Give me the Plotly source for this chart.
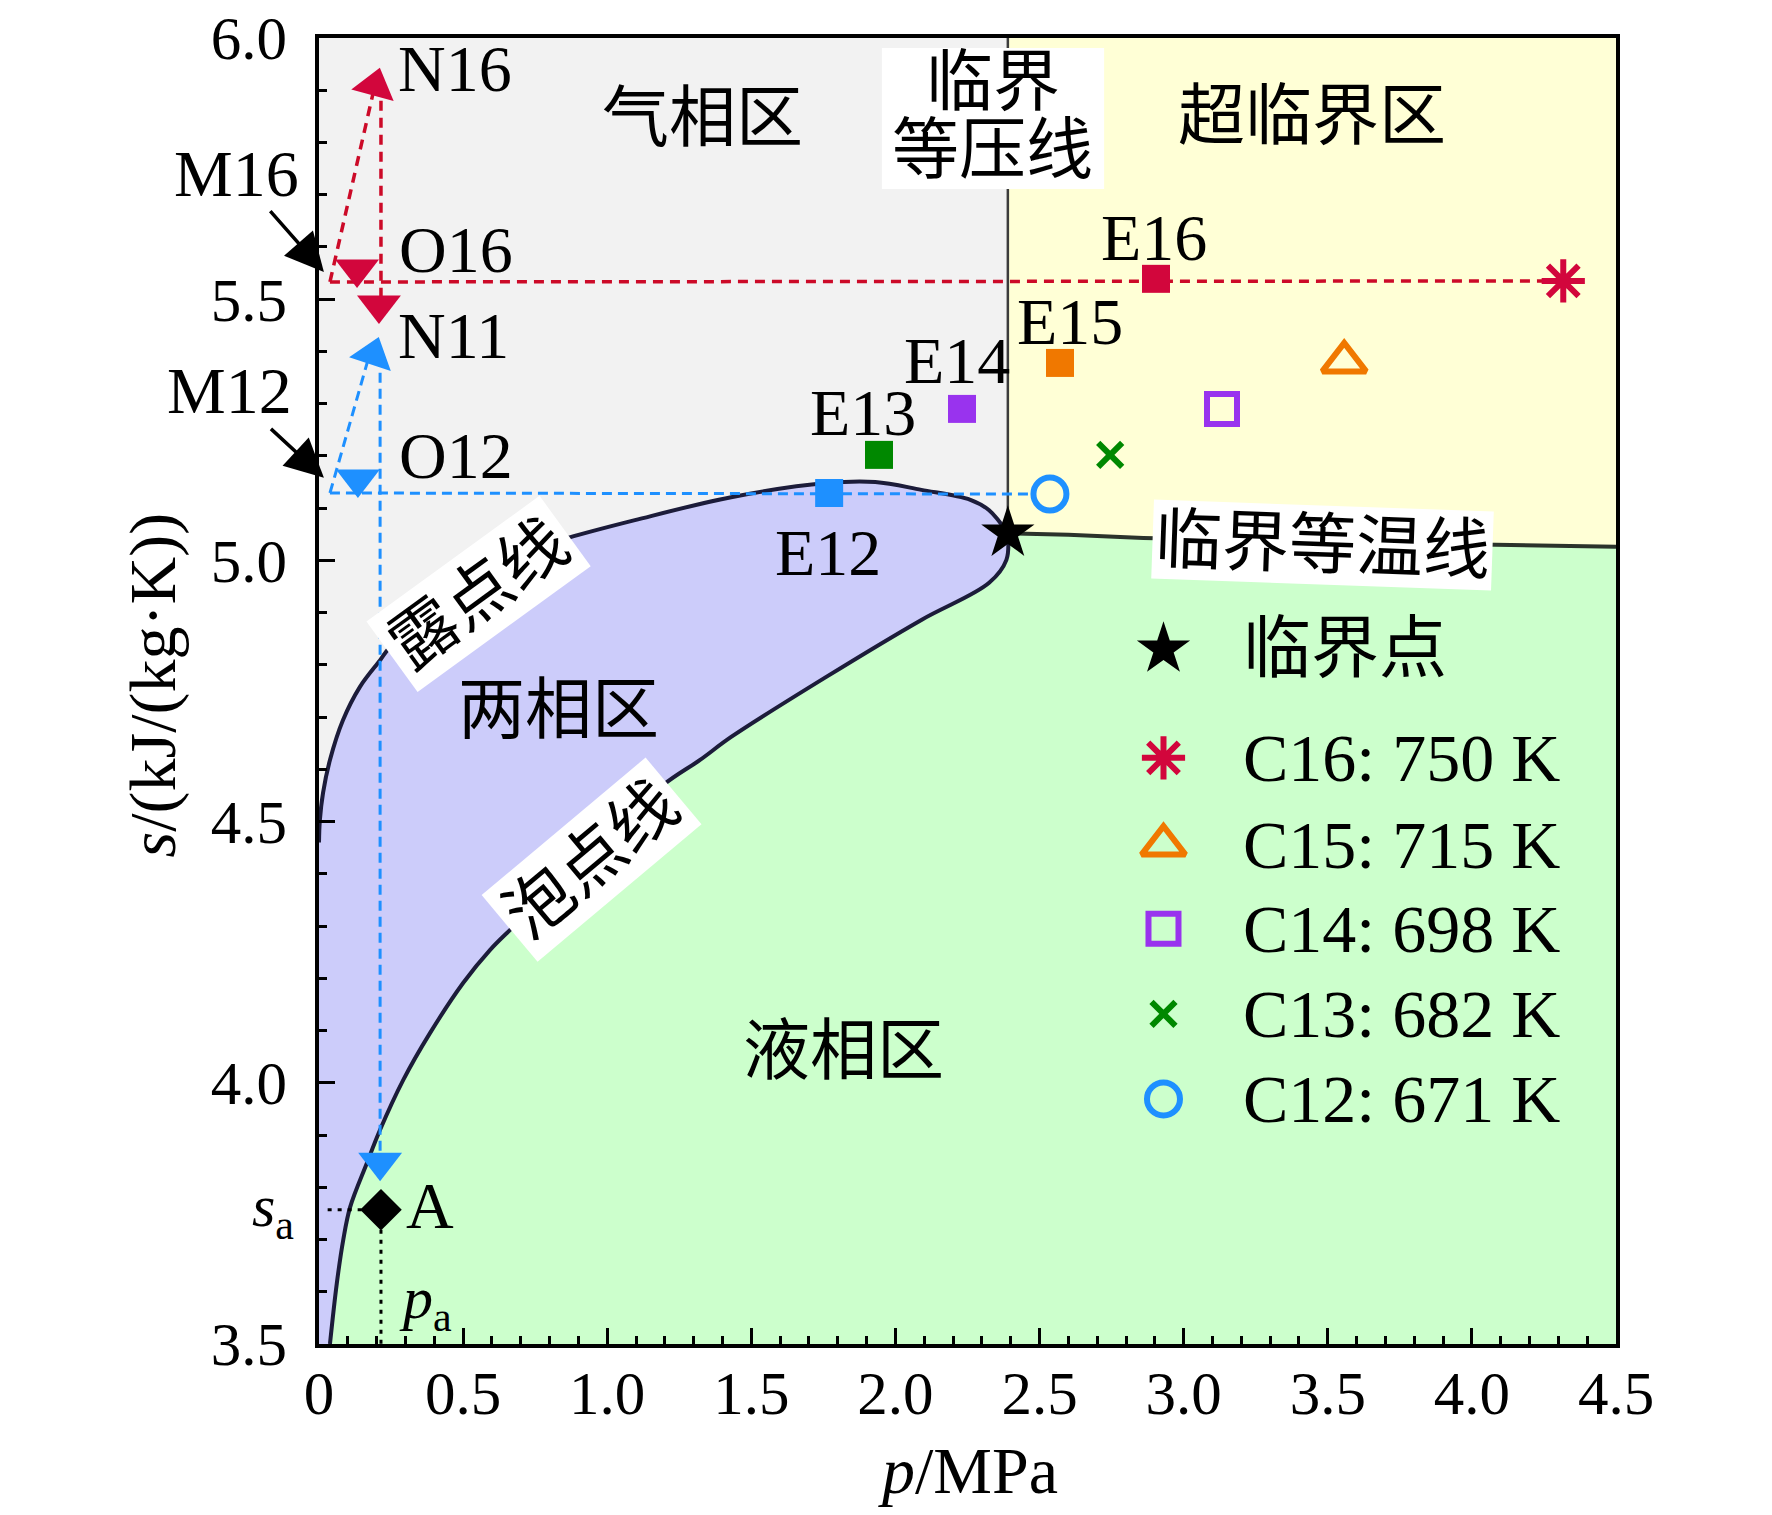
import plotly.graph_objects as go

# axes
x_ticks = [0, 0.5, 1.0, 1.5, 2.0, 2.5, 3.0, 3.5, 4.0, 4.5]
x_ticktext = ["0", "0.5", "1.0", "1.5", "2.0", "2.5", "3.0", "3.5", "4.0", "4.5"]
y_ticks = [3.5, 4.0, 4.5, 5.0, 5.5, 6.0]
y_ticktext = ["3.5", "4.0", "4.5", "5.0", "5.5", "6.0"]
p_min, p_max = 0.0, 4.5
s_min, s_max = 3.5, 6.0

# saturation dome
dew_p = [0.0, 0.003, 0.014, 0.038, 0.083, 0.142, 0.212, 0.246, 0.45, 0.65, 0.864, 1.096,
         1.43, 1.76, 1.93, 2.09, 2.26, 2.325, 2.39]
dew_s = [4.46, 4.503, 4.555, 4.618, 4.694, 4.758, 4.809, 4.834, 4.94, 5.005, 5.043, 5.077,
         5.121, 5.148, 5.150, 5.135, 5.116, 5.096, 5.052]
bubble_p = [0.038, 0.062, 0.084, 0.108, 0.166, 0.212, 0.292, 0.385, 0.50, 0.593, 0.673, 0.93,
            1.194, 1.322, 1.43, 1.76, 2.09, 2.325, 2.385, 2.39]
bubble_s = [3.50, 3.617, 3.699, 3.762, 3.846, 3.910, 4.005, 4.095, 4.191, 4.254, 4.298, 4.435,
            4.570, 4.618, 4.662, 4.777, 4.886, 4.957, 5.001, 5.052]

# critical point and critical isotherm
crit_p = 2.39
crit_s = 5.052
iso_p = [2.39, 2.6, 2.86, 3.5, 4.5]
iso_s = [5.052, 5.049, 5.043, 5.035, 5.026]

# end states E12..E16 and condenser states C12..C16
E_names = ["E12", "E13", "E14", "E15", "E16"]
E_p = [1.77, 1.943, 2.231, 2.571, 2.904]
E_s = [5.129, 5.202, 5.29, 5.378, 5.539]
E_lab_p = [1.766, 1.887, 2.215, 2.605, 2.898]
E_lab_s = [5.016, 5.284, 5.382, 5.458, 5.619]
C_names = ["C12", "C13", "C14", "C15", "C16"]
C_T = [671, 682, 698, 715, 750]
C_p = [2.536, 2.745, 3.133, 3.557, 4.317]
C_s = [5.127, 5.202, 5.29, 5.38, 5.535]
colors = ["#1e90ff", "#008800", "#9933ee", "#f07800", "#d2063c"]
C_symbols = ["circle", "x-thin", "square", "triangle-up", "asterisk"]
C_sizes = [33, 24, 30, 38, 36]

# cycle paths
M16 = (0.038, 5.533)
N16 = (0.19, 5.90)
M12 = (0.038, 5.129)
N11 = (0.168, 5.38)
red_vert_p = [0.215, 0.215]
red_vert_s = [5.88, 5.47]
blue_vert_p = [0.212, 0.212]
blue_vert_s = [5.39, 3.86]
A_p, A_s = 0.215, 3.757

# arrow heads on the paths
red_arrow_p = [0.194, 0.132, 0.208]
red_arrow_s = [5.908, 5.558, 5.489]
red_arrow_sym = ["triangle-up", "triangle-down", "triangle-down"]
red_arrow_ang = [15, 0, 0]
blue_arrow_p = [0.187, 0.135, 0.212]
blue_arrow_s = [5.393, 5.156, 3.848]
blue_arrow_sym = ["triangle-up", "triangle-down", "triangle-down"]
blue_arrow_ang = [18, 0, 0]

GAS = "#f2f2f2"
SUPER = "#ffffd6"
TWO = "#ccccfa"
LIQ = "#ccffcc"
LINE = "#1c1c3a"
RED = "#cc0a28"
CLEAR = "rgba(0,0,0,0)"
FONT = "Liberation Serif, Noto Sans CJK SC, serif"

fig = go.Figure()

def poly(x, y, color):
    fig.add_trace(go.Scatter(x=x, y=y, mode="lines", fill="toself", fillcolor=color,
                             line=dict(width=0), hoverinfo="skip", showlegend=False))

# regions
poly([p_min] + dew_p + [crit_p, p_min], [s_max] + dew_s + [s_max, s_max], GAS)
poly([crit_p] + iso_p + [p_max, crit_p], [s_max] + iso_s + [s_max, s_max], SUPER)
poly([p_min] + dew_p + bubble_p[::-1] + [p_min],
     [s_min] + dew_s + bubble_s[::-1] + [s_min], TWO)

def line(x, y, color, width=3, dash=None, shape="linear"):
    fig.add_trace(go.Scatter(x=x, y=y, mode="lines", hoverinfo="skip", showlegend=False,
                             line=dict(color=color, width=width, dash=dash, shape=shape)))

line(dew_p, dew_s, LINE, 4, shape="spline")
line(bubble_p, bubble_s, LINE, 4, shape="spline")
line(iso_p, iso_s, "#2b332b", 4)
line([crit_p, crit_p], [s_max, crit_s], "#3c3c3c", 2.5)

# cycle lines
line([M16[0], C_p[4]], [M16[1], C_s[4]], RED, 3.5, "10px,7px")
line([M16[0], N16[0]], [M16[1], N16[1]], RED, 3.5, "10px,7px")
line(red_vert_p, red_vert_s, RED, 3.5, "10px,7px")
line([M12[0], C_p[0] - 0.065], [M12[1], C_s[0]], colors[0], 3, "10px,6px")
line([M12[0], N11[0]], [M12[1], N11[1]], colors[0], 3, "10px,6px")
line(blue_vert_p, blue_vert_s, colors[0], 3, "10px,6px")
line([0.03, A_p], [A_s, A_s], "black", 3, "4px,6px")
line([A_p, A_p], [A_s, s_min], "black", 3, "4px,6px")

# arrow heads
fig.add_trace(go.Scatter(x=red_arrow_p, y=red_arrow_s, mode="markers", hoverinfo="skip", showlegend=False,
                         marker=dict(symbol=red_arrow_sym, angle=red_arrow_ang, size=38, color="#d2063c",
                                     line=dict(width=0))))
fig.add_trace(go.Scatter(x=blue_arrow_p, y=blue_arrow_s, mode="markers", hoverinfo="skip", showlegend=False,
                         marker=dict(symbol=blue_arrow_sym, angle=blue_arrow_ang, size=38, color=colors[0],
                                     line=dict(width=0))))

# point A
fig.add_trace(go.Scatter(x=[A_p], y=[A_s], mode="markers", hoverinfo="skip", showlegend=False,
                         marker=dict(symbol="diamond", size=32, color="black", line=dict(width=0))))

# E and C states
fig.add_trace(go.Scatter(x=E_p, y=E_s, mode="markers", hoverinfo="skip", showlegend=False,
                         marker=dict(symbol="square", size=28, color=colors, line=dict(width=0))))
fig.add_trace(go.Scatter(x=C_p, y=C_s, mode="markers", hoverinfo="skip", showlegend=False,
                         marker=dict(symbol=C_symbols, size=C_sizes, color=CLEAR, opacity=1,
                                     line=dict(width=6, color=colors))))

# critical point
fig.add_trace(go.Scatter(x=[crit_p], y=[crit_s], mode="markers", hoverinfo="skip", showlegend=False,
                         marker=dict(symbol="star", size=40, color="black", line=dict(width=0))))

# hand-made legend
leg_sym_p = 2.93
leg_txt_p = 3.2
leg_rows = [4.83, 4.622, 4.455, 4.295, 4.132, 3.969]
fig.add_trace(go.Scatter(x=[leg_sym_p], y=[leg_rows[0]], mode="markers", hoverinfo="skip", showlegend=False,
                         marker=dict(symbol="star", size=40, color="black", line=dict(width=0))))
fig.add_trace(go.Scatter(x=[leg_sym_p] * 5, y=leg_rows[1:], mode="markers", hoverinfo="skip", showlegend=False,
                         marker=dict(symbol=C_symbols[::-1], size=C_sizes[::-1], color=CLEAR, opacity=1,
                                     line=dict(width=6, color=colors[::-1]))))

ann = []

def text(t, x, y, size=66, **kw):
    d = dict(text=t, x=x, y=y, xref="x", yref="y", showarrow=False,
             xanchor="center", yanchor="middle",
             font=dict(family=FONT, size=size, color="black"))
    d.update(kw)
    ann.append(d)

leg_labels = ["临界点"] + [f"{n}: {t} K" for n, t in zip(C_names[::-1], C_T[::-1])]
for lab, s in zip(leg_labels, leg_rows):
    text(lab, leg_txt_p, s, size=68, xanchor="left")

for n, x, y in zip(E_names, E_lab_p, E_lab_s):
    text(n, x, y)

# region labels
text("气相区", 1.332, 5.847, size=67)
text("超临界区", 3.445, 5.851, size=67)
text("两相区", 0.83, 4.714, size=67)
text("液相区", 1.82, 4.061, size=67)
text("临界", 2.338, 5.916, size=67)
text("等压线", 2.338, 5.786, size=67)
text("临界等温线", 3.481, 5.029, size=67, bgcolor="white", borderpad=2, textangle=2)
text("露点线", 0.553, 4.936, size=67, bgcolor="white", borderpad=6, textangle=-36)
text("泡点线", 0.944, 4.427, size=67, bgcolor="white", borderpad=6, textangle=-40)

# state labels
text("N16", 0.472, 5.941)
text("O16", 0.475, 5.596)
text("N11", 0.465, 5.430)
text("O12", 0.475, 5.200)
text("A", 0.385, 3.766)
text("<i>s</i><sub>a</sub>", -0.0355, 3.755, size=60, xref="paper")
text("<i>p</i><sub>a</sub>", 0.37, 3.58, size=60)

for lab, tip, off in [("M16", (0.017, 5.552), (-87, -99)), ("M12", (0.017, 5.158), (-94, -87))]:
    ann.append(dict(text=lab, x=tip[0], y=tip[1], xref="x", yref="y", ax=off[0], ay=off[1],
                    showarrow=True, arrowhead=2, arrowsize=2.2, arrowwidth=3.5, arrowcolor="black",
                    font=dict(family=FONT, size=66, color="black")))

# axis titles
ann.append(dict(text="<i>p</i>/MPa", x=0.5, y=-0.097, xref="paper", yref="paper", showarrow=False,
                xanchor="center", yanchor="middle", font=dict(family=FONT, size=66, color="black")))
ann.append(dict(text="<i>s</i>/(kJ/(kg·K))", x=-0.128, y=0.505, xref="paper", yref="paper",
                showarrow=False, textangle=-90, xanchor="center", yanchor="middle",
                font=dict(family=FONT, size=66, color="black")))

# white box behind the critical isobar label
shapes = [dict(type="rect", xref="x", yref="y", x0=1.953, x1=2.724, y0=5.711, y1=5.981,
               fillcolor="white", line=dict(width=0), layer="above")]

axis_common = dict(showgrid=False, zeroline=False, showline=True, linewidth=3.5, linecolor="black",
                   mirror=True, ticks="inside", ticklen=16, tickwidth=3, tickcolor="black",
                   ticklabeloverflow="allow", automargin=False,
                   tickfont=dict(family=FONT, size=61, color="black"))

# page body adds an 8px offset, so the figure is 8px smaller than the window
fig.update_layout(
    width=1764, height=1507,
    margin=dict(l=311, r=156, t=30, b=171, autoexpand=False),
    paper_bgcolor="white", plot_bgcolor=LIQ,
    font=dict(family=FONT, color="black"),
    showlegend=False,
    xaxis=dict(range=[p_min, p_max], tickmode="array", tickvals=x_ticks, ticktext=x_ticktext,
               ticklabelstandoff=-7,
               minor=dict(tick0=0, dtick=0.1, ticks="inside", ticklen=8, tickwidth=3, tickcolor="black"),
               **axis_common),
    yaxis=dict(range=[s_min, s_max], tickmode="array", tickvals=y_ticks, ticktext=y_ticktext,
               ticklabelstandoff=16,
               minor=dict(tick0=3.5, dtick=0.1, ticks="inside", ticklen=8, tickwidth=3, tickcolor="black"),
               **axis_common),
    annotations=ann,
    shapes=shapes,
)

fig.write_html("out.html")
